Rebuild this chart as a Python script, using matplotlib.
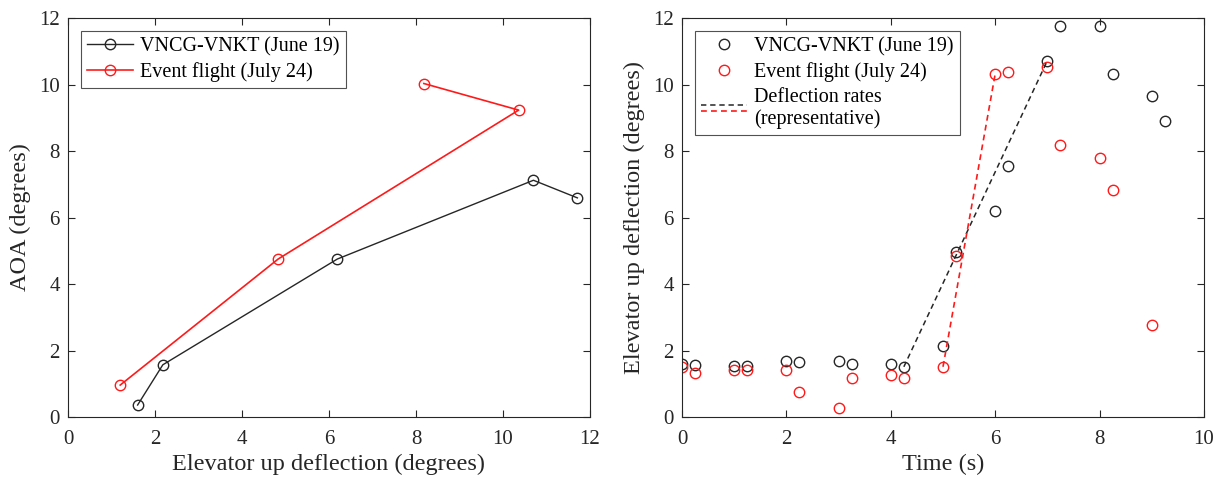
import matplotlib
matplotlib.use("Agg")
import matplotlib.pyplot as plt
from matplotlib.lines import Line2D
from matplotlib.legend_handler import HandlerBase

plt.rcParams['font.family'] = ['Liberation Serif', 'DejaVu Serif']

# AOA vs elevator deflection
june_defl = [1.6, 2.18, 6.19, 10.7, 11.71]
june_aoa = [0.36, 1.57, 4.75, 7.12, 6.59]
july_defl = [1.2, 4.83, 10.36, 8.18]
july_aoa = [0.96, 4.75, 9.23, 10.03]

# Elevator deflection time history
time_june = [0, 0.25, 1, 1.25, 2, 2.25, 3, 3.25, 4, 4.25, 5, 5.25, 6, 6.25,
             7, 7.25, 8, 8.25, 9, 9.25]
defl_june = [1.59, 1.55, 1.52, 1.54, 1.69, 1.66, 1.67, 1.59, 1.58, 1.51, 2.15,
             4.97, 6.21, 7.54, 10.72, 11.77, 11.76, 10.32, 9.66, 8.89]
time_july = [0, 0.25, 1, 1.25, 2, 2.25, 3, 3.25, 4, 4.25, 5, 5.25, 6, 6.25,
             7, 7.25, 8, 8.25, 9]
defl_july = [1.51, 1.33, 1.41, 1.41, 1.41, 0.76, 0.28, 1.16, 1.26, 1.17, 1.51,
             4.84, 10.32, 10.38, 10.54, 8.19, 7.8, 6.83, 2.76]

# Representative deflection-rate segments
rate_june_t = [4.25, 7.0]
rate_june_d = [1.51, 10.72]
rate_july_t = [5.0, 6.0]
rate_july_d = [1.51, 10.32]

BLACK = '#262626'
RED = '#ff1a1a'
DASH = (3.5, 2.5)


class StackedDashHandler(HandlerBase):
    """Legend key showing two dashed lines, one just above the other."""

    def create_artists(self, legend, orig_handle, xdescent, ydescent,
                       width, height, fontsize, trans):
        artists = []
        mid = height / 2 - ydescent
        for line, dy in zip(orig_handle, (2.2, -2.2)):
            l = Line2D([-xdescent, -xdescent + width], [mid + dy, mid + dy],
                       color=line.get_color(), lw=line.get_linewidth(),
                       ls='--', dashes=DASH)
            l.set_transform(trans)
            artists.append(l)
        return artists


W, H = 1218, 482
fig = plt.figure(figsize=(W / 100, H / 100), dpi=100)
ax1 = fig.add_axes([68 / W, 1 - 417 / H, (590 - 68) / W, 399 / H])
ax2 = fig.add_axes([682 / W, 1 - 417 / H, (1204 - 682) / W, 399 / H])

ms = 7.5
for ax in (ax1, ax2):
    for s in ax.spines.values():
        s.set_color(BLACK)
        s.set_linewidth(0.8)
    ax.tick_params(direction='in', top=True, right=True, length=5,
                   width=0.8, color=BLACK, labelsize=15, labelcolor=BLACK)
    ax.tick_params(axis='x', pad=9)
    ax.tick_params(axis='y', pad=6)

legend_kw = dict(loc='upper left', fontsize=14.5, frameon=True, fancybox=False,
                 edgecolor=BLACK, borderaxespad=0.65, handlelength=2.3,
                 handletextpad=0.35, labelspacing=0.28, borderpad=0.3)

ax1.plot(june_defl, june_aoa, '-', color=BLACK, lw=1.0, marker='o', ms=ms,
         mfc='none', mec=BLACK, mew=1.0, label='VNCG-VNKT (June 19)')
ax1.plot(july_defl, july_aoa, '-', color=RED, lw=1.2, marker='o', ms=ms,
         mfc='none', mec=RED, mew=1.0, label='Event flight (July 24)')
ax1.set_xlim(0, 12)
ax1.set_ylim(0, 12)
ax1.set_xticks(range(0, 13, 2))
ax1.set_yticks(range(0, 13, 2))
ax1.set_xlabel('Elevator up deflection (degrees)', fontsize=17.5, color=BLACK, labelpad=4)
ax1.set_ylabel('AOA (degrees)', fontsize=17.5, color=BLACK, labelpad=6)
leg1 = ax1.legend(**legend_kw)
leg1.get_frame().set_linewidth(0.8)

ax2.plot(time_june, defl_june, 'o', ms=ms, mfc='none', mec=BLACK, mew=1.0)
ax2.plot(time_july, defl_july, 'o', ms=ms, mfc='none', mec=RED, mew=1.0)
ax2.plot(rate_june_t, rate_june_d, '--', color=BLACK, lw=1.1, dashes=DASH)
ax2.plot(rate_july_t, rate_july_d, '--', color=RED, lw=1.2, dashes=DASH)
ax2.set_xlim(0, 10)
ax2.set_ylim(0, 12)
ax2.set_xticks(range(0, 11, 2))
ax2.set_yticks(range(0, 13, 2))
ax2.set_xlabel('Time (s)', fontsize=17.5, color=BLACK, labelpad=4)
ax2.set_ylabel('Elevator up deflection (degrees)', fontsize=17.5, color=BLACK, labelpad=6)

h_june = Line2D([], [], ls='none', marker='o', ms=ms, mfc='none', mec=BLACK, mew=1.0)
h_july = Line2D([], [], ls='none', marker='o', ms=ms, mfc='none', mec=RED, mew=1.0)
h_rk = Line2D([], [], color=BLACK, lw=1.1)
h_rr = Line2D([], [], color=RED, lw=1.2)
leg2 = ax2.legend([h_june, h_july, (h_rk, h_rr)],
                  ['VNCG-VNKT (June 19)', 'Event flight (July 24)',
                   'Deflection rates\n(representative)'],
                  handler_map={tuple: StackedDashHandler()}, **legend_kw)
leg2.get_frame().set_linewidth(0.8)

fig.savefig('out.png', dpi=100, facecolor='white')
